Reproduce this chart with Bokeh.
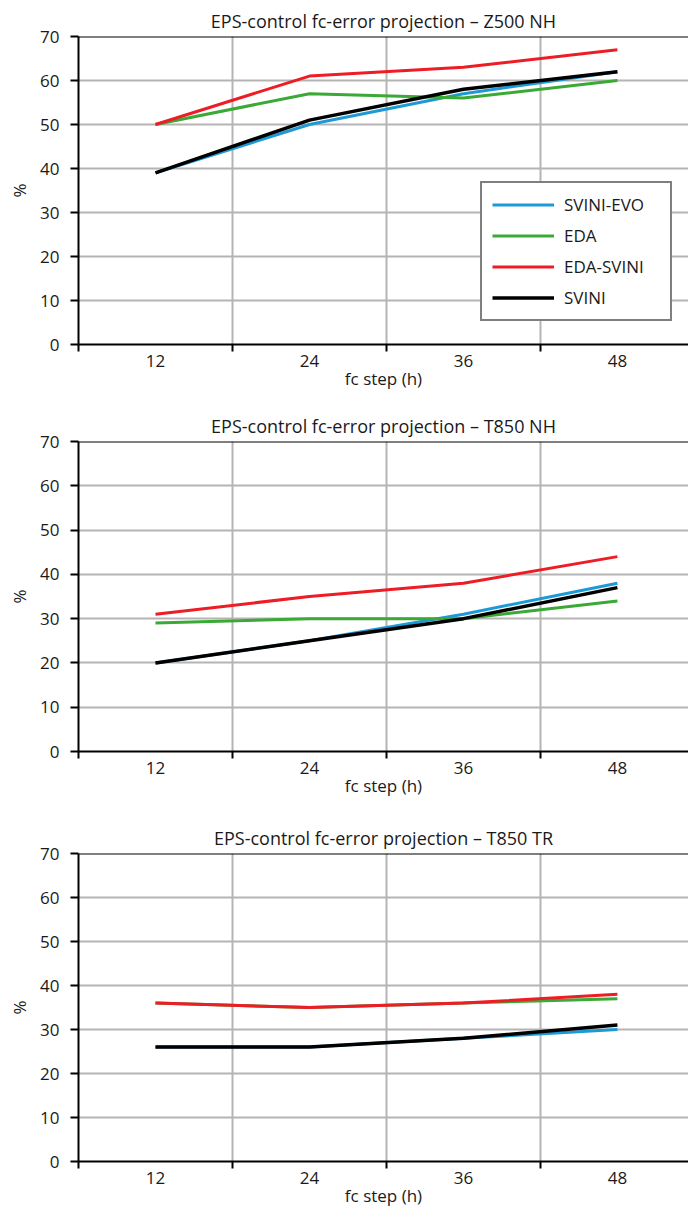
from bokeh.plotting import figure
from bokeh.layouts import column
from bokeh.models import FixedTicker, Range1d, Span, Legend, LegendItem
from bokeh.embed import file_html
from bokeh.resources import INLINE

# forecast steps (h)
steps = [12, 24, 36, 48]
series_names = ["SVINI-EVO", "EDA", "EDA-SVINI", "SVINI"]
series_colors = ["#1d9ad6", "#3aa935", "#ee1c24", "#000000"]

# Z500 NH (%)
z500_svini_evo = [39, 50, 57, 62]
z500_eda = [50, 57, 56, 60]
z500_eda_svini = [50, 61, 63, 67]
z500_svini = [39, 51, 58, 62]

# T850 NH (%)
t850nh_svini_evo = [20, 25, 31, 38]
t850nh_eda = [29, 30, 30, 34]
t850nh_eda_svini = [31, 35, 38, 44]
t850nh_svini = [20, 25, 30, 37]

# T850 TR (%)
t850tr_svini_evo = [26, 26, 28, 30]
t850tr_eda = [36, 35, 36, 37]
t850tr_eda_svini = [36, 35, 36, 38]
t850tr_svini = [26, 26, 28, 31]

y_ticks = [0, 10, 20, 30, 40, 50, 60, 70]
bin_edges = [6, 18, 30, 42, 54]

FONT = "Open Sans"
TEXT = "#1a1a1a"


def make_panel(title, series, height, min_bottom, with_legend=False):
    p = figure(width=688, height=height,
               x_range=Range1d(6, 53.54), y_range=Range1d(0, 70),
               output_backend="svg", toolbar_location=None,
               min_border_left=78, min_border_right=0,
               min_border_top=36, min_border_bottom=min_bottom,
               title=title)
    p.outline_line_color = None
    p.background_fill_color = "white"
    p.border_fill_color = "white"

    p.title.align = "center"
    p.title.text_font = FONT
    p.title.text_font_size = "18px"
    p.title.text_font_style = "normal"
    p.title.text_color = TEXT
    p.title.standoff = 8

    # x axis: labels centred in each bin, tick marks on bin edges
    xa = p.xaxis[0]
    xa.ticker = FixedTicker(ticks=steps, minor_ticks=bin_edges)
    xa.major_tick_line_color = None
    xa.major_tick_out = 6
    xa.major_tick_in = 0
    xa.minor_tick_line_color = "black"
    xa.minor_tick_line_width = 2
    xa.minor_tick_out = 7
    xa.minor_tick_in = 0
    xa.axis_line_color = "black"
    xa.axis_line_width = 2
    xa.major_label_standoff = 3
    xa.major_label_text_font = FONT
    xa.major_label_text_font_size = "17px"
    xa.major_label_text_color = TEXT
    xa.axis_label = "fc step (h)"
    xa.axis_label_text_font = FONT
    xa.axis_label_text_font_size = "17px"
    xa.axis_label_text_font_style = "normal"
    xa.axis_label_text_color = TEXT
    xa.axis_label_standoff = -3

    ya = p.yaxis[0]
    ya.ticker = FixedTicker(ticks=y_ticks, minor_ticks=[])
    ya.major_tick_line_color = "black"
    ya.major_tick_line_width = 2
    ya.major_tick_out = 8
    ya.major_tick_in = 0
    ya.axis_line_color = "black"
    ya.axis_line_width = 2
    ya.major_label_standoff = 11
    ya.major_label_text_font = FONT
    ya.major_label_text_font_size = "17px"
    ya.major_label_text_color = TEXT
    ya.axis_label = "%"
    ya.axis_label_text_font = FONT
    ya.axis_label_text_font_size = "17px"
    ya.axis_label_text_font_style = "normal"
    ya.axis_label_text_color = TEXT
    ya.axis_label_standoff = 6

    p.xgrid.ticker = FixedTicker(ticks=bin_edges[1:])
    p.ygrid.ticker = FixedTicker(ticks=y_ticks)
    for g in (p.xgrid[0], p.ygrid[0]):
        g.grid_line_color = "#b4b4b4"
        g.grid_line_width = 2

    # top frame line
    p.add_layout(Span(location=70, dimension="width",
                      line_color="black", line_width=2))

    renderers = []
    for name, color, vals in zip(series_names, series_colors, series):
        r = p.line(steps, vals, line_color=color,
                   line_width=3.5 if color == "#000000" else 3)
        renderers.append((name, r))

    if with_legend:
        legend = Legend(
            items=[LegendItem(label=n, renderers=[r]) for n, r in renderers],
            location=(402, 23),
            border_line_color="black", border_line_width=2,
            background_fill_color="white", background_fill_alpha=1.0,
            padding=10, spacing=8, margin=0,
            glyph_width=62, glyph_height=23, label_height=23,
            label_width=96, label_standoff=10,
            label_text_font=FONT, label_text_font_size="17px",
            label_text_color=TEXT,
        )
        p.add_layout(legend)
    return p


p1 = make_panel("EPS-control fc-error projection \u2013 Z500 NH",
                [z500_svini_evo, z500_eda, z500_eda_svini, z500_svini],
                405, 61, with_legend=True)
p2 = make_panel("EPS-control fc-error projection \u2013 T850 NH",
                [t850nh_svini_evo, t850nh_eda, t850nh_eda_svini, t850nh_svini],
                412, 66)
p3 = make_panel("EPS-control fc-error projection \u2013 T850 TR",
                [t850tr_svini_evo, t850tr_eda, t850tr_eda_svini, t850tr_svini],
                392, 46)

layout = column(p1, p2, p3, spacing=0)
open("out.html", "w").write(file_html(layout, INLINE))
